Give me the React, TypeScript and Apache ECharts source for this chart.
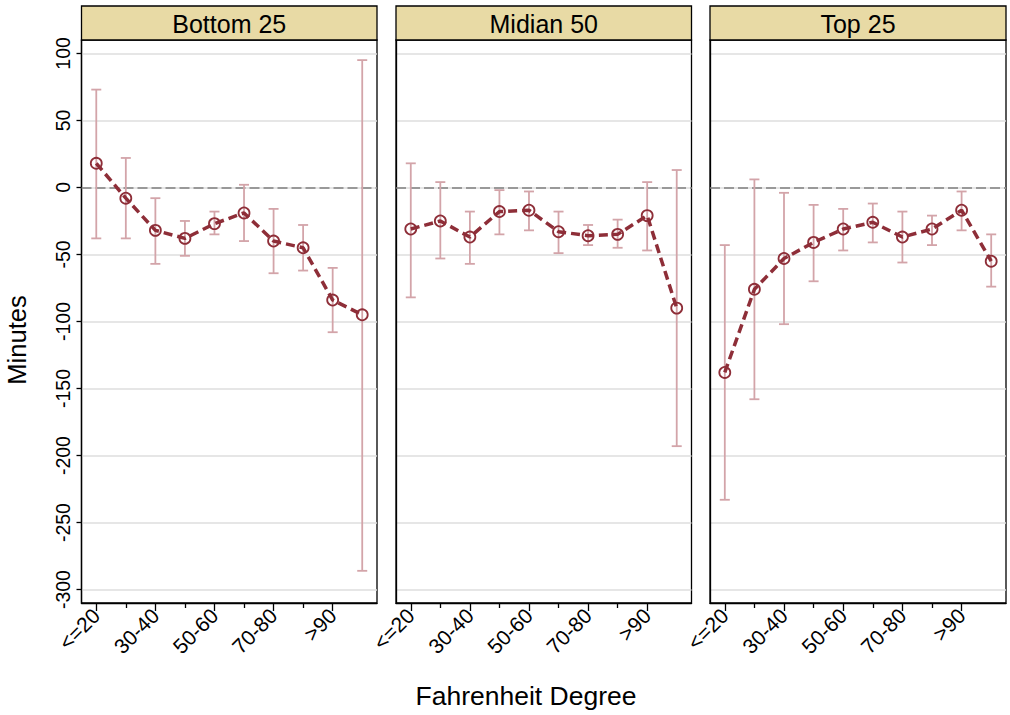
import React, { useEffect, useRef } from "react";
import * as echarts from "echarts";

const categories = ["<=20", "20-30", "30-40", "40-50", "50-60", "60-70", "70-80", "80-90", ">90", "Missing"];
const panels = ["Bottom 25", "Midian 50", "Top 25"];
const yTicks = [-300, -250, -200, -150, -100, -50, 0, 50, 100];

const bottomMean = [18, -8, -32, -38, -27, -19, -40, -45, -84, -95];
const bottomLow = [-38, -38, -57, -51, -35, -40, -64, -62, -108, -286];
const bottomHigh = [73, 22, -8, -25, -18, 2, -16, -28, -60, 95];

const medianMean = [-31, -25, -37, -18, -17, -33, -36, -35, -21, -90];
const medianLow = [-82, -53, -57, -35, -32, -49, -43, -45, -47, -193];
const medianHigh = [18, 4, -18, -2, -3, -18, -28, -24, 4, 13];

const topMean = [-138, -76, -53, -41, -31, -26, -37, -31, -17, -55];
const topLow = [-233, -158, -102, -70, -47, -41, -56, -43, -32, -74];
const topHigh = [-43, 6, -4, -13, -16, -12, -18, -21, -3, -35];

const means = [bottomMean, medianMean, topMean];
const lows = [bottomLow, medianLow, topLow];
const highs = [bottomHigh, medianHigh, topHigh];

const FONT = "Liberation Sans, Arial, Helvetica, sans-serif";
const LINE = "#8E2E38";
const BAR = "#D3A4A9";

export default function App() {
  const ref = useRef<HTMLDivElement>(null);
  useEffect(() => {
    document.body.style.margin = "0";
    const chart = echarts.init(ref.current!, null, { renderer: "svg" });
    const lefts = [81.5, 396, 710];
    const widths = [295.5, 295.5, 296];
    const top = 40;
    const height = 563;

    const grid: any[] = [];
    const xAxis: any[] = [];
    const yAxis: any[] = [];
    const series: any[] = [];
    const graphic: any[] = [];

    panels.forEach((name, i) => {
      grid.push({
        left: lefts[i],
        top,
        width: widths[i],
        height,
        show: true,
        borderColor: "#000",
        borderWidth: 1.3,
        backgroundColor: "#fff",
      });
      xAxis.push({
        type: "category",
        gridIndex: i,
        position: "bottom",
        data: categories,
        boundaryGap: true,
        axisLine: { show: true, onZero: false, lineStyle: { color: "#000", width: 1.3 } },
        axisTick: {
          show: true,
          alignWithLabel: true,
          length: 8,
          interval: (idx: number) => idx % 2 === 0 && idx <= 8,
          lineStyle: { color: "#000", width: 1.3 },
        },
        axisLabel: {
          show: true,
          interval: (idx: number) => idx % 2 === 0 && idx <= 8,
          rotate: 45,
          margin: 9,
          fontSize: 21,
          fontFamily: FONT,
          color: "#000",
        },
        splitLine: { show: false },
      });
      xAxis.push({
        type: "category",
        gridIndex: i,
        position: "bottom",
        data: categories,
        boundaryGap: true,
        axisLine: { show: false, onZero: false },
        axisTick: {
          show: true,
          alignWithLabel: true,
          length: 5,
          interval: (idx: number) => idx % 2 === 1 && idx <= 8,
          lineStyle: { color: "#000", width: 1.3 },
        },
        axisLabel: { show: false },
        splitLine: { show: false },
      });
      yAxis.push({
        type: "value",
        gridIndex: i,
        min: -310,
        max: 110,
        splitNumber: 8,
        axisLine: { show: true, onZero: false, lineStyle: { color: "#000", width: 1.3 } },
        axisTick: {
          show: i === 0,
          length: 5,
          customValues: yTicks,
          lineStyle: { color: "#000", width: 1.3 },
        },
        axisLabel: {
          show: i === 0,
          customValues: yTicks,
          rotate: 90,
          margin: 9,
          fontSize: 19.5,
          fontFamily: FONT,
          color: "#000",
        },
        splitLine: { show: true, lineStyle: { color: "#DEDEDE", width: 1.5 } },
      });
      series.push({
        type: "custom",
        xAxisIndex: i * 2,
        yAxisIndex: i,
        z: 2,
        data: categories.map((_, k) => [k, lows[i][k], highs[i][k]]),
        encode: { x: 0, y: [1, 2] },
        renderItem: (params: any, api: any) => {
          const x = api.value(0);
          const lo = api.coord([x, api.value(1)]);
          const hi = api.coord([x, api.value(2)]);
          const h = 5;
          const st = { stroke: BAR, lineWidth: 1.8 };
          return {
            type: "group",
            children: [
              { type: "line", shape: { x1: lo[0], y1: lo[1], x2: hi[0], y2: hi[1] }, style: st },
              { type: "line", shape: { x1: lo[0] - h, y1: lo[1], x2: lo[0] + h, y2: lo[1] }, style: st },
              { type: "line", shape: { x1: hi[0] - h, y1: hi[1], x2: hi[0] + h, y2: hi[1] }, style: st },
            ],
          };
        },
      });
      series.push({
        type: "line",
        xAxisIndex: i * 2,
        yAxisIndex: i,
        z: 3,
        data: means[i],
        symbol: "circle",
        symbolSize: 11,
        lineStyle: { color: LINE, width: 3.5, type: [9, 5] },
        itemStyle: { color: "rgba(255,255,255,0)", borderColor: LINE, borderWidth: 1.8 },
        markLine: {
          silent: true,
          symbol: ["none", "none"],
          label: { show: false },
          lineStyle: { color: "#808080", width: 1.6, type: [10, 4] },
          data: [{ yAxis: 0 }],
          z: 1,
        },
      });
      graphic.push({
        type: "rect",
        shape: { x: lefts[i], y: 6, width: widths[i], height: 34 },
        style: { fill: "#E8DAA5", stroke: "#000", lineWidth: 1.3 },
        z: 10,
      });
      graphic.push({
        type: "text",
        x: lefts[i] + widths[i] / 2,
        y: 23.5,
        style: {
          text: name,
          fontSize: 25,
          fontFamily: FONT,
          fill: "#000",
          align: "center",
          verticalAlign: "middle",
        },
        z: 11,
      });
    });

    graphic.push({
      type: "text",
      x: 526,
      y: 696,
      style: {
        text: "Fahrenheit Degree",
        fontSize: 26.5,
        fontFamily: FONT,
        fill: "#000",
        align: "center",
        verticalAlign: "middle",
      },
    });
    graphic.push({
      type: "text",
      x: 17,
      y: 340,
      rotation: Math.PI / 2,
      style: {
        text: "Minutes",
        fontSize: 25.5,
        fontFamily: FONT,
        fill: "#000",
        align: "center",
        verticalAlign: "middle",
      },
    });

    chart.setOption({
      animation: false,
      backgroundColor: "#fff",
      grid,
      xAxis,
      yAxis,
      series,
      graphic,
    });
    return () => chart.dispose();
  }, []);
  return <div ref={ref} style={{ width: 1010, height: 715 }} />;
}
